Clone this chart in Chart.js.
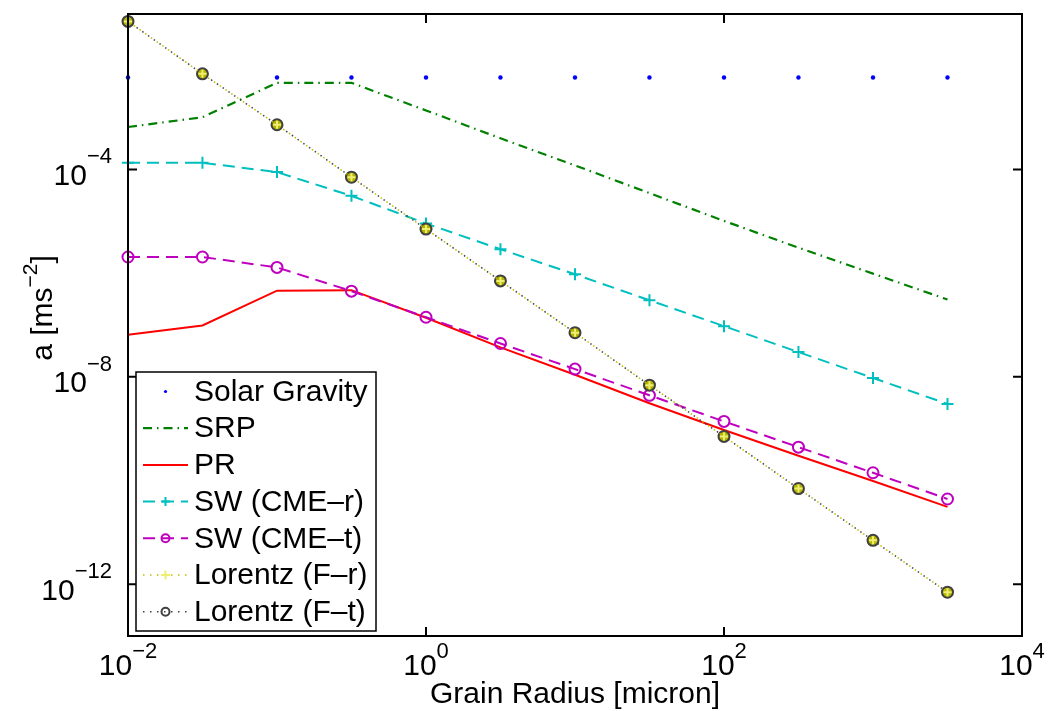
<!DOCTYPE html>
<html>
<head>
<meta charset="utf-8">
<script src="https://cdn.jsdelivr.net/npm/chart.js@4/dist/chart.umd.min.js"></script>
<style>
html,body{margin:0;padding:0;background:#ffffff;}
#wrap{width:1051px;height:711px;position:relative;}
</style>
</head>
<body>
<div id="wrap"><canvas id="c" width="1051" height="711"></canvas></div>
<script>
// ---- data ----
const grainRadius = [0.01, 0.0316, 0.1, 0.316, 1, 3.16, 10, 31.6, 100, 316, 1000, 3162];
const solarGravity = [5.97e-3, 5.97e-3, 5.97e-3, 5.97e-3, 5.97e-3, 5.97e-3, 5.97e-3, 5.97e-3, 5.97e-3, 5.97e-3, 5.97e-3, 5.97e-3];
const srp = [6.6e-4, 1.02e-3, 4.7e-3, 4.7e-3, 1.38e-3, 4.0e-4, 1.2e-4, 3.5e-5, 1.02e-5, 3.1e-6, 9.8e-7, 3.1e-7];
const pr = [6.5e-8, 9.8e-8, 4.6e-7, 4.7e-7, 1.38e-7, 3.7e-8, 1.1e-8, 3.1e-9, 9.4e-10, 3.0e-10, 9.8e-11, 3.1e-11];
const swCmeR = [1.35e-4, 1.35e-4, 8.9e-5, 3.1e-5, 9.1e-6, 2.9e-6, 9.5e-7, 3.0e-7, 9.5e-8, 3.0e-8, 9.5e-9, 3.0e-9];
const swCmeT = [2.05e-6, 2.05e-6, 1.29e-6, 4.5e-7, 1.41e-7, 4.4e-8, 1.41e-8, 4.4e-9, 1.38e-9, 4.4e-10, 1.41e-10, 4.4e-11];
const lorentzFr = [7.2e-2, 7.0e-3, 7.3e-4, 7.1e-5, 7.1e-6, 7.1e-7, 7.1e-8, 6.9e-9, 7.1e-10, 7.0e-11, 7.0e-12, 7.0e-13];
const lorentzFt = [7.2e-2, 7.0e-3, 7.3e-4, 7.1e-5, 7.1e-6, 7.1e-7, 7.1e-8, 6.9e-9, 7.1e-10, 7.0e-11, 7.0e-12, 7.0e-13];
const xTickValues = [1e-2, 1e0, 1e2, 1e4];
const xTickExponents = ['\u22122', '0', '2', '4'];
const yTickValues = [1e-4, 1e-8, 1e-12];
const yTickExponents = ['\u22124', '\u22128', '\u221212'];
const seriesNames = ['Solar Gravity', 'SRP', 'PR', 'SW (CME\u2013r)', 'SW (CME\u2013t)', 'Lorentz (F\u2013r)', 'Lorentz (F\u2013t)'];
const xTitle = 'Grain Radius [micron]';
const yTitleMain = 'a [ms';
const yTitleSup = '\u22122';
const yTitleEnd = ']';

const FONT = '"Liberation Sans", Arial, Helvetica, sans-serif';
const pts = arr => grainRadius.map((x, i) => ({x: x, y: arr[i]}));

// marker/line style description per series (used for chart and legend)
const styles = [
  {color:'#0000ff', dash:[], width:0, marker:'dot', mr:2.2, show:false, fill:'#0000ff'},
  {color:'#008000', dash:[9,5,1.5,5], width:2.2, marker:null},
  {color:'#ff0000', dash:[], width:2, marker:null},
  {color:'#00bfbf', dash:[12,7], width:2, marker:'plus', mr:6},
  {color:'#bf00bf', dash:[12,7], width:2, marker:'circle', mr:5.5},
  {color:'#bfbf00', dash:[1.5,5.5], width:1.5, marker:'plus', mr:4, mcolor:'#eeee70'},
  {color:'#404040', dash:[1.5,5.5], width:1.5, marker:'circle', mr:5.5, fill:'#b5b500', dashOffset:3.5}
];
const seriesData = [solarGravity, srp, pr, swCmeR, swCmeT, lorentzFr, lorentzFt];
const orders = [7, 6, 5, 4, 3, 1, 2];

const datasets = seriesData.map((arr, i) => {
  const s = styles[i];
  let pointStyle = false, radius = 0;
  if (s.marker === 'dot') { pointStyle = 'circle'; radius = s.mr; }
  if (s.marker === 'plus') { pointStyle = 'cross'; radius = s.mr; }
  if (s.marker === 'circle') { pointStyle = 'circle'; radius = s.mr; }
  return {
    label: seriesNames[i],
    data: pts(arr),
    showLine: s.show !== false,
    borderColor: s.color,
    borderWidth: s.width,
    borderDash: s.dash,
    borderDashOffset: s.dashOffset || 0,
    fill: false,
    tension: 0,
    clip: false,
    order: orders[i],
    pointStyle: pointStyle,
    pointRadius: radius,
    pointHoverRadius: radius,
    pointBorderColor: s.mcolor || s.color,
    pointBackgroundColor: s.fill || 'rgba(0,0,0,0)',
    pointBorderWidth: s.marker === 'dot' ? 0 : 2
  };
});

function drawMarker(ctx, s, x, y, r) {
  ctx.save();
  ctx.setLineDash([]);
  if (s.marker === 'dot') {
    ctx.fillStyle = s.color;
    ctx.beginPath(); ctx.arc(x, y, r, 0, Math.PI*2); ctx.fill();
  } else if (s.marker === 'plus') {
    ctx.strokeStyle = s.mcolor || s.color; ctx.lineWidth = 2;
    ctx.beginPath(); ctx.moveTo(x-r, y); ctx.lineTo(x+r, y); ctx.moveTo(x, y-r); ctx.lineTo(x, y+r); ctx.stroke();
  } else if (s.marker === 'circle') {
    ctx.strokeStyle = s.color; ctx.lineWidth = 2;
    ctx.beginPath(); ctx.arc(x, y, r, 0, Math.PI*2); ctx.stroke();
  }
  ctx.restore();
}

function powLabel(ctx, exp, baseFont, supFont) {
  ctx.font = baseFont + 'px ' + FONT;
  const wb = ctx.measureText('10').width;
  ctx.font = supFont + 'px ' + FONT;
  const ws = ctx.measureText(exp).width;
  return {wb: wb, ws: ws, w: wb + ws};
}

const decor = {
  id: 'decor',
  afterDraw(chart) {
    const ctx = chart.ctx;
    const a = chart.chartArea;
    const xs = chart.scales.x, ys = chart.scales.y;
    ctx.save();
    // frame
    ctx.strokeStyle = '#000'; ctx.lineWidth = 2; ctx.setLineDash([]);
    ctx.strokeRect(a.left, a.top, a.right - a.left, a.bottom - a.top);
    // ticks (inward)
    const tl = 9;
    ctx.beginPath();
    xTickValues.forEach(v => {
      const px = xs.getPixelForValue(v);
      ctx.moveTo(px, a.bottom); ctx.lineTo(px, a.bottom - tl);
      ctx.moveTo(px, a.top); ctx.lineTo(px, a.top + tl);
    });
    yTickValues.forEach(v => {
      const py = ys.getPixelForValue(v);
      ctx.moveTo(a.left, py); ctx.lineTo(a.left + tl, py);
      ctx.moveTo(a.right, py); ctx.lineTo(a.right - tl, py);
    });
    ctx.stroke();
    // tick labels
    ctx.fillStyle = '#000';
    ctx.textBaseline = 'alphabetic';
    ctx.textAlign = 'left';
    const BF = 30, SF = 22;
    xTickValues.forEach((v, i) => {
      const px = xs.getPixelForValue(v);
      const m = powLabel(ctx, xTickExponents[i], BF, SF);
      const x0 = px - m.w / 2;
      ctx.font = BF + 'px ' + FONT; ctx.fillText('10', x0, a.bottom + 39);
      ctx.font = SF + 'px ' + FONT; ctx.fillText(xTickExponents[i], x0 + m.wb, a.bottom + 22);
    });
    yTickValues.forEach((v, i) => {
      const py = ys.getPixelForValue(v);
      const m = powLabel(ctx, yTickExponents[i], BF, SF);
      const x0 = a.left - 16 - m.w;
      ctx.font = BF + 'px ' + FONT; ctx.fillText('10', x0, py + 15.5);
      ctx.font = SF + 'px ' + FONT; ctx.fillText(yTickExponents[i], x0 + m.wb, py - 6.3);
    });
    // axis titles
    ctx.font = '30px ' + FONT;
    ctx.textAlign = 'center';
    ctx.fillText(xTitle, (a.left + a.right) / 2, a.bottom + 67);
    ctx.save();
    ctx.translate(a.left - 86, (a.top + a.bottom) / 2 - 17);
    ctx.rotate(-Math.PI / 2);
    ctx.textAlign = 'left';
    ctx.font = '30px ' + FONT;
    const w1 = ctx.measureText(yTitleMain).width;
    const w3 = ctx.measureText(yTitleEnd).width;
    ctx.font = '21px ' + FONT;
    const w2 = ctx.measureText(yTitleSup).width;
    const tot = w1 + w2 + w3;
    let xx = -tot / 2;
    ctx.font = '30px ' + FONT; ctx.fillText(yTitleMain, xx, 10); xx += w1;
    ctx.font = '21px ' + FONT; ctx.fillText(yTitleSup, xx, -5); xx += w2;
    ctx.font = '30px ' + FONT; ctx.fillText(yTitleEnd, xx, 10);
    ctx.restore();
    // legend
    const lx = a.left + 8, lr = a.left + 248, lb = a.bottom - 5, lt = lb - 259;
    ctx.fillStyle = '#fff';
    ctx.fillRect(lx, lt, lr - lx, lb - lt);
    ctx.strokeStyle = '#000'; ctx.lineWidth = 1.5;
    ctx.strokeRect(lx, lt, lr - lx, lb - lt);
    const rowH = 36.7;
    seriesNames.forEach((name, i) => {
      const s = styles[i];
      const cy = lt + 19.5 + i * rowH;
      const x1 = lx + 7, x2 = lx + 52, cx = (x1 + x2) / 2;
      if (s.show !== false && s.width > 0) {
        ctx.save();
        ctx.strokeStyle = s.color; ctx.lineWidth = s.width; ctx.setLineDash(s.dash);
        ctx.beginPath(); ctx.moveTo(x1, cy); ctx.lineTo(x2, cy); ctx.stroke();
        ctx.restore();
      }
      if (s.marker) drawMarker(ctx, s, cx, cy, s.marker === 'dot' ? 1.6 : (s.marker === 'plus' ? 4.5 : 4));
      ctx.fillStyle = '#000';
      ctx.font = '30px ' + FONT;
      ctx.textAlign = 'left';
      ctx.textBaseline = 'middle';
      ctx.fillText(name, lx + 58, cy + 1);
    });
    ctx.restore();
  }
};

new Chart(document.getElementById('c'), {
  type: 'line',
  data: { datasets: datasets },
  options: {
    responsive: false,
    animation: false,
    devicePixelRatio: 1,
    layout: { padding: { left: 128, right: 29, top: 14, bottom: 75 } },
    scales: {
      x: { type: 'logarithmic', min: 0.01, max: 1e4, display: false },
      y: { type: 'logarithmic', min: 1e-13, max: 1e-1, display: false }
    },
    plugins: { legend: { display: false }, tooltip: { enabled: false } },
    events: []
  },
  plugins: [decor]
});
</script>
</body>
</html>
